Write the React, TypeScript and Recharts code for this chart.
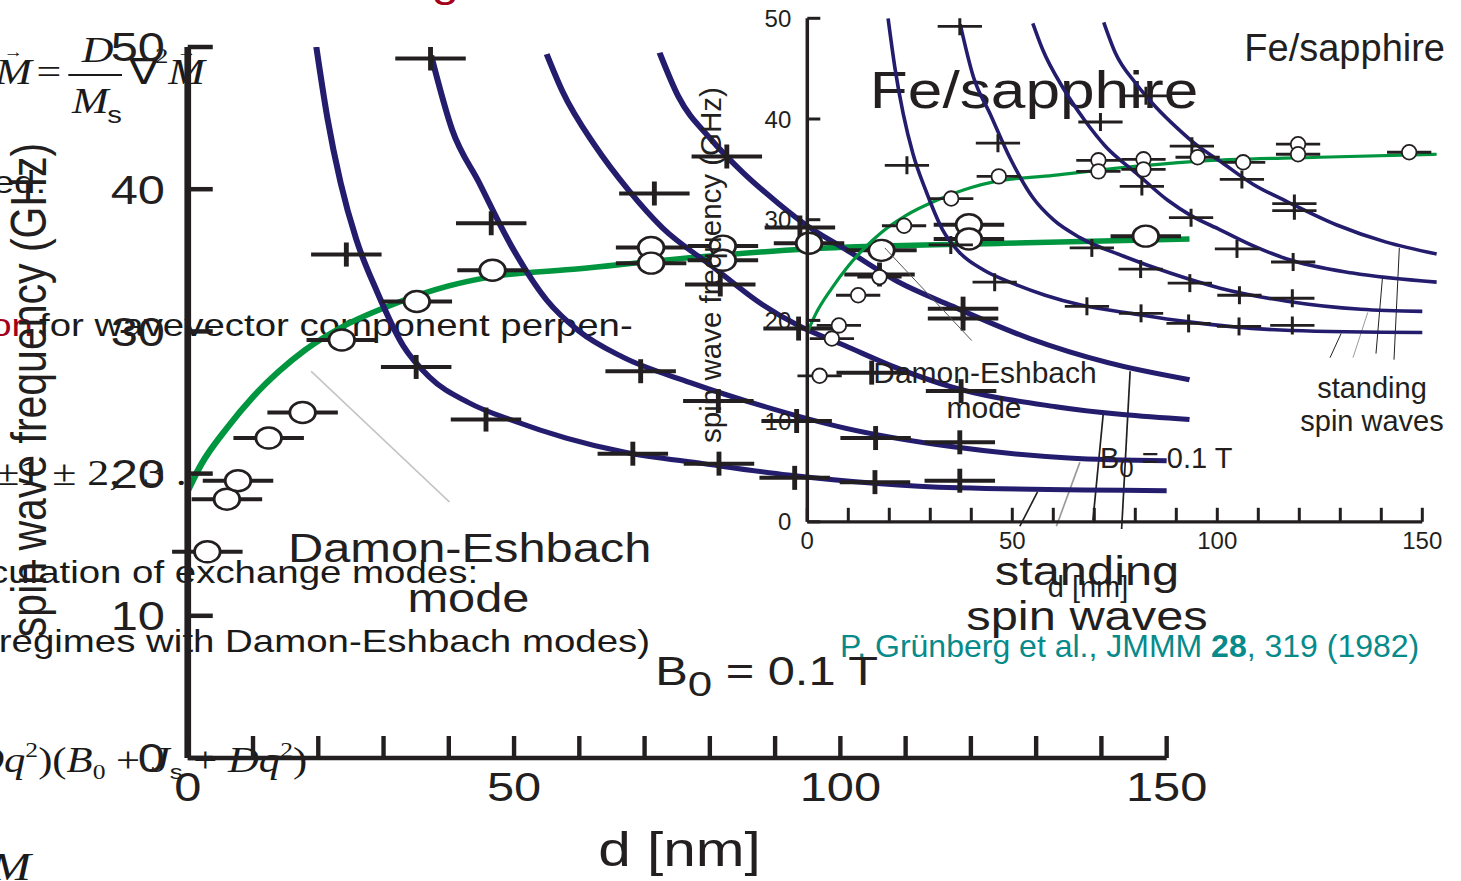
import React from 'react';
import { ComposedChart, Line, Scatter, XAxis, YAxis, ErrorBar, ReferenceLine } from 'recharts';

// axes
const X_TICKS = [0, 10, 20, 30, 40, 50, 60, 70, 80, 90, 100, 110, 120, 130, 140, 150];
const Y_TICKS = [0, 10, 20, 30, 40, 50];

// Damon-Eshbach mode, calculated (green)
const DE_D = [0, 2, 6, 10, 14, 18, 24, 32, 40, 46, 60, 75, 95, 125, 153.5];
const DE_F = [18.8, 20.6, 23.2, 25.4, 27.2, 28.7, 30.4, 32.0, 33.2, 33.8, 34.4, 35.1, 35.8, 36.2, 36.5];

// standing spin waves n = 1..4, calculated (blue)
const SSW1_D = [19.7, 21.4, 23.4, 25.8, 29.0, 33.0, 37.0, 43.0, 50.0, 58.0, 67.0, 79.0, 92.0, 118.0, 150.0];
const SSW1_F = [50.0, 45.0, 40.5, 36.5, 32.8, 29.0, 26.8, 25.0, 23.7, 22.5, 21.5, 20.7, 19.9, 19.0, 18.8];
const SSW2_D = [37.3, 40.5, 44.6, 49.6, 55.0, 60.0, 66.6, 77.0, 88.5, 100.7, 117.0, 135.0, 150.0];
const SSW2_F = [49.4, 44.2, 40.5, 36.0, 32.2, 30.0, 28.2, 26.4, 24.7, 23.2, 21.9, 21.1, 20.9];
const SSW3_D = [55.0, 57.4, 62.5, 67.6, 72.7, 80.3, 88.0, 93.6, 100.7, 108.8, 117.0, 133.0, 153.5];
const SSW3_F = [49.5, 46.9, 43.0, 39.9, 37.3, 34.6, 31.9, 30.4, 29.0, 27.4, 26.1, 24.7, 23.8];
const SSW4_D = [72.3, 75.2, 80.0, 85.0, 90.5, 95.0, 100.7, 108.8, 117.0, 129.0, 141.0, 153.5];
const SSW4_F = [49.6, 46.5, 43.6, 41.2, 39.0, 37.4, 35.8, 33.5, 31.8, 29.5, 27.8, 26.6];

// measured: open circles = DE mode, crosses = standing modes
const CIRCLE_D = [3.0, 6.0, 7.7, 12.4, 17.6, 23.6, 35.1, 46.7, 71.0, 71.0, 82.0, 82.0, 95.2, 106.3, 119.7, 119.7, 146.8];
const CIRCLE_F = [14.5, 18.2, 19.5, 22.5, 24.3, 29.4, 32.1, 34.3, 35.9, 34.8, 36.0, 35.0, 36.2, 35.7, 37.5, 36.5, 36.7];
const CROSS_D = [24.3, 37.2, 35.0, 46.5, 45.7, 71.5, 69.4, 68.2, 82.6, 81.6, 81.3, 81.4, 93.8, 93.6, 93.3, 93.0,
  106.0, 104.8, 105.4, 105.3, 118.8, 118.8, 118.5, 118.3, 118.3];
const CROSS_F = [35.4, 49.2, 27.5, 37.6, 23.8, 39.7, 27.2, 21.4, 42.3, 33.3, 25.1, 20.7, 37.3, 30.2, 23.7, 19.7,
  34.0, 27.1, 22.5, 19.4, 31.6, 30.9, 25.8, 22.2, 19.5];
const ERR_NM = 5.4; // thickness error, half width

// thin pointer lines from the labels to the curves
const DE_POINTER_D = [18.9, 40.1];
const DE_POINTER_F = [27.2, 18.0];
const SSW_POINTER_D = [[127.5, 130.2], [133.1, 136.7], [138.7, 140.3], [143.1, 144.4]];
const SSW_POINTER_F = [[16.3, 18.7], [16.3, 20.8], [16.7, 24.3], [16.1, 27.2]];

const INK = '#231f20';
const NAVY = '#241d6e';
const GREEN = '#00963f';
const RED = '#a3001b';
const TEAL = '#078a8a';
const SANS = '"Liberation Sans", Arial, sans-serif';
const SERIF = '"Liberation Serif", "Times New Roman", serif';

const STRETCH = 1.22; // the big slide figure is stretched sideways
const BIG_W = 1461 / STRETCH;

const rows = (ds: number[], fs: number[]) => ds.map((d, i) => ({ d, f: fs[i] }));
const DE_ROWS = rows(DE_D, DE_F);
const MODES = [rows(SSW1_D, SSW1_F), rows(SSW2_D, SSW2_F), rows(SSW3_D, SSW3_F), rows(SSW4_D, SSW4_F)];
const CIRCLES = CIRCLE_D.map((d, i) => ({ d, f: CIRCLE_F[i], err: ERR_NM }));
const CROSSES = CROSS_D.map((d, i) => ({ d, f: CROSS_F[i], err: ERR_NM }));

type Look = {
  width: number;
  height: number;
  margin: { top: number; right: number; bottom: number; left: number };
  axisW: number;
  yAxisW: number;
  xTickW: number;
  yTickW: number;
  xTickLen: number;
  yTickLen: number;
  tickFont: number;
  yLabelGap: number;
  xLabelDrop: number;
  curveW: number;
  greenW: number;
  circleR: number;
  circleW: number;
  crossH: number;
  crossW: number;
  barW: number;
  pointerW: number;
  dePointer: string;
};

const BIG: Look = {
  width: BIG_W,
  height: 881,
  margin: { top: 47, right: 214.5, bottom: 122, left: 152.9 },
  axisW: 4.5,
  yAxisW: 5.5,
  xTickW: 3.6,
  yTickW: 4.5,
  xTickLen: 22,
  yTickLen: 20.5,
  tickFont: 40,
  yLabelGap: 18.7,
  xLabelDrop: 43,
  curveW: 5,
  greenW: 5.5,
  circleR: 10.5,
  circleW: 2.4,
  crossH: 12,
  crossW: 4,
  barW: 4,
  pointerW: 1.4,
  dePointer: '#c4c4c4',
};

const SMALL: Look = {
  width: 1461,
  height: 881,
  margin: { top: 18.3, right: 18.2, bottom: 358.2, left: 806.3 },
  axisW: 3.2,
  yAxisW: 3.5,
  xTickW: 3,
  yTickW: 3,
  xTickLen: 14,
  yTickLen: 13,
  tickFont: 24,
  yLabelGap: 16,
  xLabelDrop: 27,
  curveW: 3.6,
  greenW: 3.2,
  circleR: 7.3,
  circleW: 1.8,
  crossH: 9,
  crossW: 3,
  barW: 2.8,
  pointerW: 1,
  dePointer: '#555555',
};

const SpinWaveChart = ({ look }: { look: Look }) => {
  const xTick = (p: any) => {
    const v = p.payload.value;
    return (
      <g>
        <line x1={p.x} x2={p.x} y1={p.y} y2={p.y - look.xTickLen} stroke={INK} strokeWidth={look.xTickW} />
        {v % 50 === 0 && (
          <text x={p.x} y={p.y + look.xLabelDrop} textAnchor="middle" fontSize={look.tickFont} fontFamily={SANS} fill={INK}>
            {v}
          </text>
        )}
      </g>
    );
  };
  const yTick = (p: any) => (
    <g>
      <line x1={p.x} x2={p.x + look.yTickLen} y1={p.y} y2={p.y} stroke={INK} strokeWidth={look.yTickW} />
      <text x={p.x - look.yLabelGap} y={p.y} dy="0.36em" textAnchor="end" fontSize={look.tickFont} fontFamily={SANS} fill={INK}>
        {p.payload.value}
      </text>
    </g>
  );

  return (
    <ComposedChart width={look.width} height={look.height} margin={look.margin}>
      <XAxis
        type="number"
        dataKey="d"
        domain={[0, 155]}
        ticks={X_TICKS}
        interval={0}
        axisLine={false}
        tickLine={false}
        tickSize={0}
        tickMargin={0}
        height={1}
        tick={xTick}
        allowDataOverflow
      />
      <YAxis
        type="number"
        dataKey="f"
        domain={[0, 50]}
        ticks={Y_TICKS}
        interval={0}
        axisLine={{ stroke: INK, strokeWidth: look.yAxisW }}
        tickLine={false}
        tickSize={0}
        tickMargin={0}
        width={1}
        tick={yTick}
        allowDataOverflow
      />
      <ReferenceLine
        segment={[{ x: 0, y: 0 }, { x: 150, y: 0 }]}
        stroke={INK}
        strokeWidth={look.axisW}
        ifOverflow="visible"
      />
      <ReferenceLine
        segment={[{ x: DE_POINTER_D[0], y: DE_POINTER_F[0] }, { x: DE_POINTER_D[1], y: DE_POINTER_F[1] }]}
        stroke={look.dePointer}
        strokeWidth={look.pointerW}
        ifOverflow="visible"
      />
      {SSW_POINTER_D.map((ds, i) => (
        <ReferenceLine
          key={'p' + i}
          segment={[{ x: ds[0], y: SSW_POINTER_F[i][0] }, { x: ds[1], y: SSW_POINTER_F[i][1] }]}
          stroke={i === 1 ? '#9a9a9a' : INK}
          strokeWidth={look.pointerW}
          ifOverflow="visible"
        />
      ))}
      <Line
        data={DE_ROWS}
        dataKey="f"
        type="monotone"
        stroke={GREEN}
        strokeWidth={look.greenW}
        dot={false}
        isAnimationActive={false}
      />
      {MODES.map((m, i) => (
        <Line
          key={'n' + i}
          data={m}
          dataKey="f"
          type="monotone"
          stroke={NAVY}
          strokeWidth={look.curveW}
          dot={false}
          isAnimationActive={false}
        />
      ))}
      <Scatter
        data={CROSSES}
        dataKey="f"
        isAnimationActive={false}
        shape={(p: any) => (
          <line x1={p.cx} x2={p.cx} y1={p.cy - look.crossH} y2={p.cy + look.crossH} stroke={INK} strokeWidth={look.crossW} />
        )}
      >
        <ErrorBar dataKey="err" direction="x" width={0} stroke={INK} strokeWidth={look.barW} />
      </Scatter>
      <Scatter data={CIRCLES} dataKey="f" isAnimationActive={false} shape={() => <g />}>
        <ErrorBar dataKey="err" direction="x" width={0} stroke={INK} strokeWidth={look.barW} />
      </Scatter>
      <Scatter
        data={CIRCLES}
        dataKey="f"
        isAnimationActive={false}
        shape={(p: any) => (
          <circle cx={p.cx} cy={p.cy} r={look.circleR} fill="#ffffff" stroke={INK} strokeWidth={look.circleW} />
        )}
      />
    </ComposedChart>
  );
};

const abs: React.CSSProperties = { position: 'absolute', left: 0, top: 0 };

// bits of the lecture slide behind the big figure (unstretched coordinates)
const SlideText = () => (
  <svg width={BIG_W} height={881} style={abs}>
    <g fill="#1a1a1a">
      <text x={354} y={-3} fontSize={40} fontFamily={SANS} fill={RED}>g</text>
      <text x={-4} y={84} fontSize={36} fontFamily={SERIF} fontStyle="italic">M</text>
      <text x={3} y={57} fontSize={16} fontFamily={SERIF}>→</text>
      <text x={30} y={84} fontSize={36} fontFamily={SERIF}>=</text>
      <text x={67} y={62} fontSize={36} fontFamily={SERIF} fontStyle="italic">D</text>
      <line x1={56} x2={100} y1={75} y2={75} stroke="#1a1a1a" strokeWidth={2} />
      <text x={59} y={113} fontSize={36} fontFamily={SERIF} fontStyle="italic">M</text>
      <text x={88} y={123} fontSize={24} fontFamily={SANS}>s</text>
      <text x={106} y={84} fontSize={36} fontFamily={SERIF}>∇</text>
      <text x={127} y={63} fontSize={22} fontFamily={SERIF}>2</text>
      <text x={138} y={84} fontSize={36} fontFamily={SERIF} fontStyle="italic">M</text>
      <text x={145} y={57} fontSize={16} fontFamily={SERIF}>→</text>
      <text x={-6} y={193} fontSize={31.5} fontFamily={SANS}>ed.</text>
      <text x={27} y={336} fontSize={31.5} fontFamily={SANS} textAnchor="end" fill={RED}>ion</text>
      <text x={32} y={336} fontSize={31.5} fontFamily={SANS}>for wavevector component perpen-</text>
      <text x={-4} y={485} fontSize={36} fontFamily={SERIF}>±1 ± 2,</text>
      <text x={117} y={485} fontSize={36} fontFamily={SERIF}>3 .</text>
      <text x={-9} y={583} fontSize={31.5} fontFamily={SANS}>culation of exchange modes:</text>
      <text x={-1} y={652} fontSize={31.5} fontFamily={SANS}>regimes with Damon-Eshbach modes)</text>
      <text x={-22} y={772} fontSize={35} fontFamily={SERIF}>
        <tspan fontStyle="italic">Dq</tspan>
        <tspan fontSize={21} dy={-15}>2</tspan>
        <tspan dy={15}>)(</tspan>
        <tspan fontStyle="italic">B</tspan>
        <tspan fontSize={21} dy={7}>0</tspan>
        <tspan dy={-7}> + </tspan>
        <tspan fontStyle="italic">J</tspan>
        <tspan fontSize={21} dy={7} fontFamily={SANS}>s</tspan>
        <tspan dy={-7}> + </tspan>
        <tspan fontStyle="italic">Dq</tspan>
        <tspan fontSize={21} dy={-15}>2</tspan>
        <tspan dy={15}>)</tspan>
      </text>
      <text x={-8} y={880} fontSize={40} fontFamily={SERIF} fontStyle="italic">M</text>
    </g>
  </svg>
);

const BigLabels = () => (
  <svg width={BIG_W} height={881} style={{ ...abs, pointerEvents: 'none' }}>
    <g fill={INK} fontFamily={SANS}>
      <text x={713} y={108} fontSize={51}>Fe/sapphire</text>
      <text x={38} y={390} fontSize={41} textAnchor="middle" transform="rotate(-90 38 390)">
        spin wave frequency (GHz)
      </text>
      <text x={557} y={866} fontSize={48} textAnchor="middle">d [nm]</text>
      <text x={385} y={562} fontSize={40} textAnchor="middle">Damon-Eshbach</text>
      <text x={384} y={612} fontSize={40} textAnchor="middle">mode</text>
      <text x={537} y={685} fontSize={40}>
        B<tspan fontSize={36} dy={11}>0</tspan>
        <tspan dy={-11}> = 0.1 T</tspan>
      </text>
      <text x={891} y={585} fontSize={40} textAnchor="middle">standing</text>
      <text x={891} y={630} fontSize={40} textAnchor="middle">spin waves</text>
    </g>
  </svg>
);

const SmallLabels = () => (
  <svg width={1461} height={881} style={{ ...abs, pointerEvents: 'none' }}>
    <g fill={INK} fontFamily={SANS}>
      <text x={1445} y={61} fontSize={38} textAnchor="end">Fe/sapphire</text>
      <text x={721} y={265} fontSize={29.5} textAnchor="middle" transform="rotate(-90 721 265)">
        spin wave frequency (GHz)
      </text>
      <text x={1088} y={597} fontSize={29} textAnchor="middle">d [nm]</text>
      <text x={985} y={383} fontSize={30} textAnchor="middle">Damon-Eshbach</text>
      <text x={984} y={418} fontSize={30} textAnchor="middle">mode</text>
      <text x={1100} y={468} fontSize={29}>
        B<tspan fontSize={26} dy={9}>0</tspan>
        <tspan dy={-9}> = 0.1 T</tspan>
      </text>
      <text x={1372} y={398} fontSize={29} textAnchor="middle">standing</text>
      <text x={1372} y={431} fontSize={29} textAnchor="middle">spin waves</text>
      <text x={840} y={657} fontSize={32} fill={TEAL}>
        P. Grünberg et al., JMMM <tspan fontWeight="bold">28</tspan>, 319 (1982)
      </text>
    </g>
  </svg>
);

export default function App() {
  return (
    <div style={{ ...abs, width: 1461, height: 881, overflow: 'hidden', background: '#ffffff' }}>
      <div style={{ ...abs, width: BIG_W, height: 881, transform: `scaleX(${STRETCH})`, transformOrigin: '0 0' }}>
        <SlideText />
        <div style={abs}>
          <SpinWaveChart look={BIG} />
        </div>
        <BigLabels />
      </div>
      <div style={abs}>
        <SpinWaveChart look={SMALL} />
      </div>
      <SmallLabels />
    </div>
  );
}
